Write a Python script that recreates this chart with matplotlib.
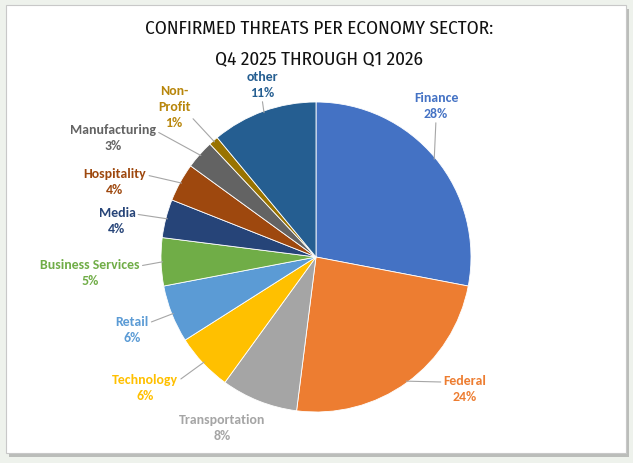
import matplotlib.pyplot as plt
import numpy as np
from matplotlib.patches import Rectangle

# data
sectors = ["Finance", "Federal", "Transportation", "Technology", "Retail",
           "Business Services", "Media", "Hospitality", "Manufacturing",
           "Non-\nProfit", "other"]
shares = [28, 24, 8, 6, 6, 5, 4, 4, 3, 1, 11]
colors = ["#4472C4", "#ED7D31", "#A5A5A5", "#FFC000", "#5B9BD5", "#70AD47",
          "#264478", "#9E480E", "#636363", "#997300", "#255E91"]
label_colors = ["#4472C4", "#ED7D31", "#A5A5A5", "#FFC000", "#5B9BD5", "#70AD47",
                "#264478", "#9E480E", "#636363", "#B8860B", "#255E91"]

# label layout (pie radius = 1)
label_pos = [(0.774, 0.974), (0.961, -0.852), (-0.606, -1.103), (-1.103, -0.845),
             (-1.187, -0.471), (-1.458, -0.103), (-1.284, 0.232), (-1.297, 0.484),
             (-1.310, 0.768), (-0.916, 0.968), (-0.348, 1.110)]
show_leader = [True, True, False, True, True, True, True, True, True, True, True]
leader_from = [(0.5, 0), (0, 0.75), (0.5, 1), (1, 0.75), (1, 0.75), (1, 0.75),
               (1, 0.75), (1, 0.75), (1, 0.75), (1, 0.3), (0.5, 0)]

W, H = 633, 463
R = 155.0
cx, cy = 316, 257  # pie centre in pixels, from top

fig = plt.figure(figsize=(W / 100, H / 100), dpi=100)
fig.patch.set_facecolor("#eef2ec")

# chart panel with shadow
fig.patches.append(Rectangle((9 / W, 1 - 457 / H), 620 / W, 448 / H,
                             transform=fig.transFigure, facecolor="#9a9a9a",
                             edgecolor="none", alpha=0.6, zorder=0))
fig.patches.append(Rectangle((6 / W, 1 - 453 / H), 620 / W, 448 / H,
                             transform=fig.transFigure, facecolor="white",
                             edgecolor="#c8c8c8", linewidth=0.8, zorder=1))

ax = fig.add_axes([0, 0, 1, 1])
ax.set_zorder(5)
ax.set_facecolor("none")
wedges, _ = ax.pie(shares, colors=colors, startangle=90, counterclock=False,
                   radius=1.0, center=(0, 0),
                   wedgeprops=dict(edgecolor="white", linewidth=0.6))
ax.set_xlim(-cx / R, (W - cx) / R)
ax.set_ylim(-(H - cy) / R, cy / R)
ax.axis("off")

for w, name, val, col, pos, lead, rp in zip(wedges, sectors, shares, label_colors,
                                            label_pos, show_leader, leader_from):
    mid = np.deg2rad((w.theta1 + w.theta2) / 2)
    edge = (0.99 * np.cos(mid), 0.99 * np.sin(mid))
    ap = None
    if lead:
        ap = dict(arrowstyle="-", color="#a6a6a6", lw=0.8, shrinkA=0, shrinkB=0,
                  relpos=rp)
    ax.annotate(f"{name}\n{val}%", xy=edge, xytext=pos, ha="center", va="center",
                fontsize=10, fontweight="bold", color=col, family="Carlito",
                linespacing=1.4, arrowprops=ap)

fig.text(319 / W, 1 - 29 / H, "CONFIRMED THREATS PER ECONOMY SECTOR:",
         ha="center", va="center", fontsize=13.8, family="Fira Sans Condensed",
         color="#111111", zorder=6)
fig.text(319 / W, 1 - 58.5 / H, "Q4 2025 THROUGH Q1 2026",
         ha="center", va="center", fontsize=13.8, family="Fira Sans Condensed",
         color="#111111", zorder=6)

fig.savefig("out.png", dpi=100, facecolor=fig.get_facecolor())
